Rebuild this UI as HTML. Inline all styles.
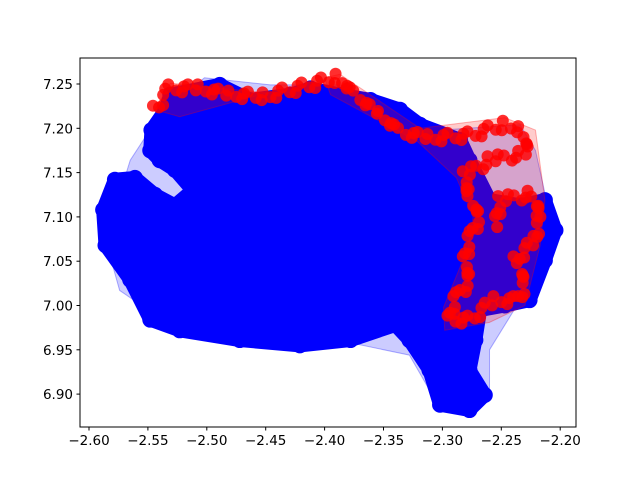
<!DOCTYPE html>
<html><head><meta charset="utf-8"><style>
html,body{margin:0;padding:0;background:#fff;}
svg text{font-family:"DejaVu Sans","Liberation Sans",sans-serif;font-size:13.5px;fill:#000;}
</style></head><body>
<svg id="chart" width="640" height="480" xmlns="http://www.w3.org/2000/svg">
<g id="plot"></g>
<rect x="80" y="58" width="496" height="369" fill="none" stroke="#000" stroke-width="1"/>
<g id="axes"></g>
</svg>
<script>
const xTicks=[-2.60,-2.55,-2.50,-2.45,-2.40,-2.35,-2.30,-2.25,-2.20];
const yTicks=[6.90,6.95,7.00,7.05,7.10,7.15,7.20,7.25];
const blueX=[-2.588,-2.578,-2.561,-2.544,-2.527,-2.512,-2.527,-2.540,-2.548,-2.547,-2.535,-2.531,-2.489,-2.463,-2.429,-2.412,-2.387,-2.361,-2.336,-2.319,-2.285,-2.277,-2.260,-2.234,-2.213,-2.204,-2.213,-2.226,-2.247,-2.268,-2.272,-2.277,-2.264,-2.277,-2.302,-2.311,-2.328,-2.340,-2.378,-2.421,-2.472,-2.523,-2.548,-2.565,-2.586];
const blueY=[7.108,7.142,7.144,7.125,7.113,7.130,7.153,7.164,7.175,7.198,7.221,7.238,7.249,7.232,7.238,7.245,7.238,7.232,7.221,7.204,7.187,7.164,7.119,7.113,7.119,7.085,7.051,7.006,7.000,6.995,6.961,6.927,6.899,6.882,6.888,6.927,6.961,6.978,6.961,6.955,6.961,6.972,6.984,7.029,7.068];
const blueHullX=[-2.586,-2.565,-2.540,-2.502,-2.446,-2.387,-2.302,-2.234,-2.221,-2.206,-2.234,-2.260,-2.260,-2.285,-2.306,-2.328,-2.429,-2.531,-2.574];
const blueHullY=[7.074,7.164,7.215,7.257,7.249,7.249,7.198,7.204,7.175,7.085,7.006,6.950,6.899,6.880,6.893,6.944,6.972,6.978,7.017];
const redX=[-2.544,-2.531,-2.506,-2.480,-2.451,-2.389,-2.374,-2.353,-2.336,-2.311,-2.277,-2.247,-2.234,-2.226,-2.234,-2.260,-2.281,-2.277,-2.268,-2.277,-2.281,-2.277,-2.289,-2.294,-2.277,-2.255,-2.234,-2.230,-2.238,-2.221,-2.217,-2.226,-2.251,-2.255];
const redY=[7.221,7.245,7.245,7.238,7.236,7.257,7.238,7.215,7.196,7.189,7.192,7.204,7.198,7.175,7.170,7.164,7.147,7.119,7.102,7.074,7.051,7.029,7.006,6.984,6.984,7.006,7.006,7.029,7.051,7.074,7.108,7.125,7.119,7.085];
const redHull1X=[-2.544,-2.531,-2.449,-2.523];
const redHull1Y=[7.221,7.251,7.240,7.213];
const redHull2X=[-2.400,-2.387,-2.319,-2.247,-2.221,-2.213,-2.217,-2.230,-2.260,-2.298,-2.299,-2.278,-2.274,-2.288,-2.321,-2.395];
const redHull2Y=[7.257,7.261,7.200,7.212,7.198,7.119,7.068,7.000,6.981,6.972,6.998,7.066,7.100,7.144,7.185,7.238];

const NS="http://www.w3.org/2000/svg";
const sx=v=>89+(v+2.60)/0.05*58.9;
const sy=v=>84+(7.25-v)/0.05*44.3;
const plot=document.getElementById('plot'), axes=document.getElementById('axes');
function mk(tag,attrs,parent){const e=document.createElementNS(NS,tag);for(const k in attrs)e.setAttribute(k,attrs[k]);parent.appendChild(e);return e;}
function pts(xs,ys){return xs.map((x,i)=>sx(x)+','+sy(ys[i])).join(' ');}

let p=mk('polygon',{points:pts(blueHullX,blueHullY),fill:'rgba(0,0,255,0.2)',stroke:'rgba(0,0,255,0.3)'},plot);


p=mk('polygon',{points:pts(blueX,blueY),fill:'#0000ff',stroke:'#0000ff','stroke-width':14,'stroke-linejoin':'round'},plot);


for(let i=0;i<blueX.length;i++){
  const c=mk('circle',{cx:sx(blueX[i]),cy:sy(blueY[i]),r:8,fill:'#0000ff'},plot);
  
  
}
p=mk('polygon',{points:pts(redHull1X,redHull1Y),fill:'rgba(255,0,0,0.2)',stroke:'rgba(255,0,0,0.3)'},plot);


p=mk('polygon',{points:pts(redHull2X,redHull2Y),fill:'rgba(255,0,0,0.2)',stroke:'rgba(255,0,0,0.3)'},plot);


for(let i=0;i<redX.length-1;i++){
  const x0=sx(redX[i]),y0=sy(redY[i]),x1=sx(redX[i+1]),y1=sy(redY[i+1]);
  const n=Math.max(1,Math.round(Math.hypot(x1-x0,y1-y0)/5));
  for(let k=0;k<n;k++){
    const t=k/n;
    const off=[-4,2,4,-2][k%4];
    const c=mk('circle',{cx:x0+(x1-x0)*t+off/2,cy:y0+(y1-y0)*t+off,r:6,fill:'rgba(255,0,0,0.82)'},plot);
    
    
  }
}
xTicks.forEach(v=>{
  const x=sx(v);
  const l=mk('line',{x1:x,x2:x,y1:427,y2:430.5,stroke:'#000'},axes);
  
  
  const t=mk('text',{x:x,y:445,'text-anchor':'middle'},axes);
  t.textContent=(v<0?'\u2212':'')+Math.abs(v).toFixed(2);
  
  
});
yTicks.forEach(v=>{
  const y=sy(v);
  const l=mk('line',{x1:76.5,x2:80,y1:y,y2:y,stroke:'#000'},axes);
  
  
  const t=mk('text',{x:73,y:y+5,'text-anchor':'end'},axes);
  t.textContent=v.toFixed(2);
  
  
});
</script>
</body></html>
